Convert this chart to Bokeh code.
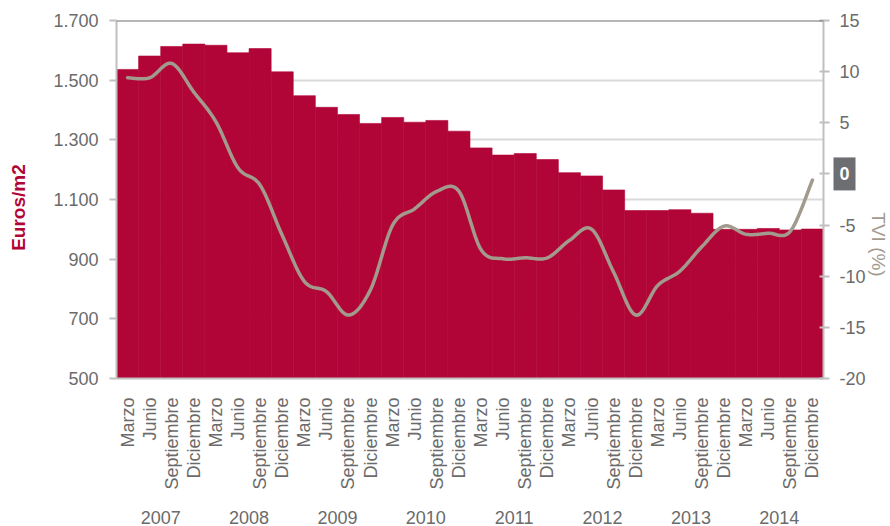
import math
import numpy as np
from bokeh.plotting import figure
from bokeh.models import Range1d, LinearAxis, FixedTicker, Label, Span
from bokeh.embed import file_html
from bokeh.resources import INLINE

# ---------------- data ----------------
years = ["2007", "2008", "2009", "2010", "2011", "2012", "2013", "2014"]
quarters = ["Marzo", "Junio", "Septiembre", "Diciembre"]

precio = [1536, 1581, 1613, 1621, 1617, 1592, 1606, 1528,
          1448, 1409, 1385, 1355, 1375, 1359, 1365, 1329,
          1273, 1249, 1254, 1234, 1190, 1179, 1132, 1063,
          1063, 1066, 1054, 1000, 1000, 1003, 998, 1001]

tvi = [9.4, 9.4, 10.8, 8.0, 5.1, 0.6, -1.1, -6.0,
       -10.5, -11.5, -13.8, -11.3, -5.0, -3.4, -1.7, -1.7,
       -7.4, -8.3, -8.2, -8.2, -6.5, -5.4, -9.6, -13.8,
       -10.9, -9.5, -7.1, -5.1, -5.9, -5.8, -5.6, -0.6]

left_ticks = [500, 700, 900, 1100, 1300, 1500, 1700]
left_tick_labels = ["500", "700", "900", "1.100", "1.300", "1.500", "1.700"]
right_ticks = [-20, -15, -10, -5, 0, 5, 10, 15]
right_tick_labels = ["-20", "-15", "-10", "-5", "", "5", "10", "15"]

# ---------------- styles ----------------
BAR = "#B20537"
LINE = "#A39A8E"
TXT = "#6B6B6B"
AX = "#BFBFBF"
FONT = "Liberation Sans"

n = len(precio)
idx = list(range(n))
labels_q = [quarters[i % 4] for i in idx]


def catmull_rom(xs, ys, steps=24):
    pts = list(zip(xs, ys))
    ox, oy = [], []
    for i in range(len(pts) - 1):
        p0 = pts[i - 1] if i > 0 else pts[i]
        p1 = pts[i]
        p2 = pts[i + 1]
        p3 = pts[i + 2] if i + 2 < len(pts) else pts[i + 1]
        for t in np.linspace(0, 1, steps, endpoint=False):
            t2, t3 = t * t, t * t * t
            for k, out in ((0, ox), (1, oy)):
                v = 0.5 * ((2 * p1[k]) + (-p0[k] + p2[k]) * t
                           + (2 * p0[k] - 5 * p1[k] + 4 * p2[k] - p3[k]) * t2
                           + (-p0[k] + 3 * p1[k] - 3 * p2[k] + p3[k]) * t3)
                out.append(v)
    ox.append(pts[-1][0])
    oy.append(pts[-1][1])
    return ox, oy


p = figure(width=890, height=526,
           x_range=Range1d(-0.5, n - 0.5), y_range=Range1d(500, 1700),
           output_backend="svg", toolbar_location=None,
           min_border_left=116, min_border_right=66,
           min_border_top=20, min_border_bottom=147)
p.extra_y_ranges = {"tvi": Range1d(-20, 15)}
p.outline_line_color = None
p.background_fill_color = "white"
p.border_fill_color = "white"

# grid
p.xgrid.visible = False
p.ygrid.ticker = FixedTicker(ticks=left_ticks)
p.ygrid.grid_line_color = "#D9D9D9"
p.ygrid.grid_line_width = 2

# bars
p.vbar(x=idx, top=precio, bottom=500, width=1.0,
       fill_color=BAR, line_color=BAR, line_width=0.6)

# smoothed TVI line
sx, sy = catmull_rom(idx, tvi)
p.line(sx, sy, y_range_name="tvi", line_color=LINE, line_width=3.5,
       line_join="round", line_cap="round")

# top border
p.add_layout(Span(location=1700, dimension="width",
                  line_color="#6D6E71", line_width=2))

# left axis
ya = p.yaxis[0]
ya.ticker = FixedTicker(ticks=left_ticks)
ya.major_label_overrides = {t: l for t, l in zip(left_ticks, left_tick_labels)}
ya.major_label_text_font = FONT
ya.major_label_text_font_size = "18px"
ya.major_label_text_color = TXT
ya.axis_line_color = AX
ya.axis_line_width = 2
ya.major_tick_line_color = AX
ya.major_tick_line_width = 2
ya.major_tick_in = 0
ya.major_tick_out = 7
ya.minor_tick_line_color = None
ya.major_label_standoff = 11

# right axis
ra = LinearAxis(y_range_name="tvi", ticker=FixedTicker(ticks=right_ticks))
ra.major_label_overrides = {t: l for t, l in zip(right_ticks, right_tick_labels)}
ra.major_label_text_font = FONT
ra.major_label_text_font_size = "18px"
ra.major_label_text_color = TXT
ra.axis_line_color = AX
ra.axis_line_width = 2
ra.major_tick_line_color = AX
ra.major_tick_line_width = 2
ra.major_tick_in = 4
ra.major_tick_out = 6
ra.minor_tick_line_color = None
ra.major_label_standoff = 10
p.add_layout(ra, "right")

# bottom axis: quarters
xa = p.xaxis[0]
xa.ticker = FixedTicker(ticks=idx)
xa.major_label_overrides = {i: l for i, l in zip(idx, labels_q)}
xa.major_label_orientation = math.pi / 2
xa.major_label_text_font = FONT
xa.major_label_text_font_size = "18px"
xa.major_label_text_color = TXT
xa.axis_line_color = AX
xa.axis_line_width = 2
xa.major_tick_line_color = None
xa.minor_tick_line_color = None
xa.major_label_standoff = 13

# bottom axis: years
year_pos = [4 * k + 1.5 for k in range(len(years))]
ya2 = LinearAxis(ticker=FixedTicker(ticks=year_pos))
ya2.major_label_overrides = {t: y for t, y in zip(year_pos, years)}
ya2.major_label_text_font = FONT
ya2.major_label_text_font_size = "18px"
ya2.major_label_text_color = TXT
ya2.axis_line_color = None
ya2.major_tick_line_color = None
ya2.minor_tick_line_color = None
ya2.major_label_standoff = 12
p.add_layout(ya2, "below")

# axis titles and highlighted zero: labels living in side panels (not clipped),
# positioned through the data scales plus pixel offsets
p.add_layout(Label(x=-0.5, x_offset=-98, y=1073,
                   text="Euros/m2", angle=math.pi / 2,
                   text_align="center", text_baseline="middle",
                   text_font=FONT, text_font_size="19px", text_font_style="bold",
                   text_color=BAR), "left")
p.add_layout(Label(x=n - 0.5, x_offset=55, y=-6.9, y_range_name="tvi",
                   text="TVI (%)", angle=-math.pi / 2,
                   text_align="center", text_baseline="middle",
                   text_font=FONT, text_font_size="19px", text_color=LINE), "left")
p.add_layout(Label(x=n - 0.5, x_offset=21, y=0, y_range_name="tvi", text="0",
                   text_align="center", text_baseline="middle",
                   text_font=FONT, text_font_size="18px", text_font_style="bold",
                   text_color="white", background_fill_color="#6D6E71",
                   padding=dict(left=6, right=6, top=10, bottom=10)), "right")

open("out.html", "w").write(file_html(p, INLINE))
